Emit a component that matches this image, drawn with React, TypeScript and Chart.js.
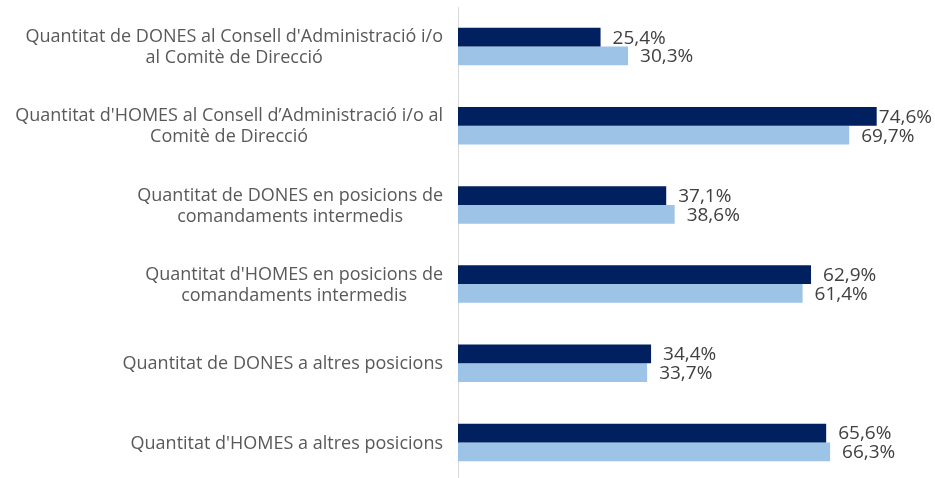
import React, { useEffect, useRef } from "react";
import { Chart, registerables } from "chart.js";

Chart.register(...registerables);

const categories: string[][] = [
  ["Quantitat de DONES al Consell d'Administració i/o", "al Comitè de Direcció"],
  ["Quantitat d'HOMES al Consell d\u2019Administració i/o al", "Comitè de Direcció"],
  ["Quantitat de DONES en posicions de", "comandaments intermedis"],
  ["Quantitat d'HOMES en posicions de", "comandaments intermedis"],
  ["Quantitat de DONES a altres posicions"],
  ["Quantitat d'HOMES a altres posicions"],
];
const seriesDark = [25.4, 74.6, 37.1, 62.9, 34.4, 65.6];
const seriesLight = [30.3, 69.7, 38.6, 61.4, 33.7, 66.3];
const seriesNames = ["Sèrie 1", "Sèrie 2"];

const FONT = "'Open Sans', sans-serif";
const CAT_SIZE = 18;
const VAL_SIZE = 19;
const LINE_H = 21;

const fmt = (v: number) => v.toFixed(1).replace(".", ",") + "%";

const labelPlugin = {
  id: "customLabels",
  afterDatasetsDraw(chart: any) {
    const ctx = chart.ctx as CanvasRenderingContext2D;
    const y = chart.scales.y;
    ctx.save();
    ctx.font = `${CAT_SIZE}px ${FONT}`;
    ctx.fillStyle = "#595959";
    ctx.textBaseline = "middle";
    ctx.textAlign = "center";
    categories.forEach((lines, i) => {
      const cy = y.getPixelForValue(i);
      const maxW = Math.max(...lines.map((l) => ctx.measureText(l).width));
      const cx = chart.chartArea.left - 15 - maxW / 2;
      lines.forEach((l, j) => {
        ctx.fillText(l, cx, cy + 1 + (j - (lines.length - 1) / 2) * LINE_H);
      });
    });
    ctx.font = `${VAL_SIZE}px ${FONT}`;
    ctx.fillStyle = "#404040";
    ctx.textAlign = "left";
    chart.data.datasets.forEach((ds: any, di: number) => {
      const meta = chart.getDatasetMeta(di);
      meta.data.forEach((bar: any, i: number) => {
        const text = fmt(ds.data[i]);
        const w = ctx.measureText(text).width;
        let x = bar.x + 12;
        if (x + w > chart.width - 3) x = chart.width - 3 - w;
        ctx.fillText(text, x, bar.y + 1);
      });
    });
    ctx.restore();
  },
};

export default function App() {
  const ref = useRef<HTMLCanvasElement | null>(null);
  useEffect(() => {
    if (!ref.current) return;
    const chart = new Chart(ref.current, {
      type: "bar",
      data: {
        labels: categories.map((l) => l.join(" ")),
        datasets: [
          {
            label: seriesNames[0],
            data: seriesDark,
            backgroundColor: "#002060",
            categoryPercentage: 0.473,
            barPercentage: 1,
          },
          {
            label: seriesNames[1],
            data: seriesLight,
            backgroundColor: "#9DC3E6",
            categoryPercentage: 0.473,
            barPercentage: 1,
          },
        ],
      },
      options: {
        indexAxis: "y",
        animation: false,
        responsive: true,
        maintainAspectRatio: false,
        layout: { padding: { top: 7, right: 28, bottom: 0, left: 0 } },
        plugins: { legend: { display: false }, tooltip: { enabled: false } },
        scales: {
          x: { display: false, min: 0, max: 80 },
          y: {
            ticks: { display: false },
            grid: { display: false },
            border: { display: true, color: "#D9D9D9", width: 1 },
            afterFit: (scale: any) => {
              scale.width = 458;
            },
          },
        },
      },
      plugins: [labelPlugin],
    } as any);
    return () => chart.destroy();
  }, []);
  return (
    <div style={{ position: "absolute", left: 0, top: 0, width: 935, height: 478, overflow: "hidden" }}>
      <div style={{ position: "relative", width: 935, height: 482 }}>
        <canvas ref={ref} />
      </div>
    </div>
  );
}
